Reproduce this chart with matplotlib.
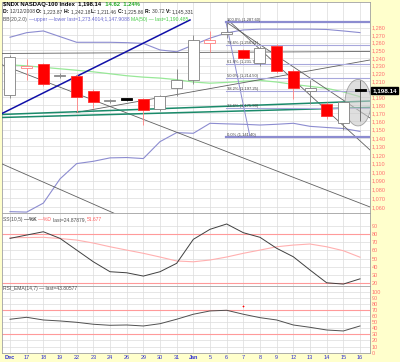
import numpy as np
import matplotlib
matplotlib.use("Agg")
import matplotlib.pyplot as plt
from matplotlib.ticker import NullLocator

plt.rcParams['font.family'] = ['Liberation Sans Narrow', 'Liberation Sans', 'DejaVu Sans']

# ---- data ----
date_labels = ['Dec', '17', '18', '19', '22', '23', '24', '26', '29', '30', '31',
               'Jan', '5', '6', '7', '8', '9', '12', '13', '14', '15', '16']
opens  = [1193, 1227, 1232, 1217, 1217, 1198, 1185, 1188.5, 1187, 1175, 1201.5,
          1212, 1259, 1272, 1250, 1233, 1256, 1223, 1198, 1182, 1158, 1200]
highs  = [1244, 1238, 1234, 1220, 1219, 1200, 1187, 1189, 1189, 1193, 1225,
          1270, 1275, 1287.5, 1252, 1256, 1258, 1225, 1212, 1184, 1184, 1212]
lows   = [1189, 1211, 1204, 1214, 1172, 1177, 1183, 1185, 1156, 1173, 1191,
          1206, 1248, 1266, 1238, 1230, 1221, 1187, 1181, 1163, 1150, 1160]
closes = [1241, 1230, 1206, 1218.5, 1190, 1184, 1186, 1186.5, 1174, 1191, 1212,
          1264, 1263, 1274, 1240, 1253, 1223, 1201, 1202, 1166, 1183.52, 1198.14]
prev_close = 1230.0

ma50 = [1231, 1229.7, 1227.8, 1225.9, 1224, 1222, 1219.5, 1217, 1215.2, 1214, 1212,
        1209, 1207.5, 1208.5, 1210, 1211, 1209, 1206, 1203.5, 1201, 1196.5, 1190.485]
bb_upper = [1267.2, 1273.3, 1275.6, 1268, 1260.5, 1260.5, 1260.5, 1260, 1259, 1250.4, 1248,
            1257, 1266, 1273, 1277, 1278, 1278, 1278, 1278, 1277.6, 1275.6, 1273.4014]
bb_lower = [1055.1, 1054.6, 1064.6, 1092, 1109.7, 1112.4, 1116.4, 1116.8, 1115.6, 1135.6, 1146.4,
            1145.6, 1157.7, 1157, 1156.5, 1155.6, 1156.5, 1157.7, 1154, 1152.6, 1151.4, 1147.9088]

ss_k = [75, 79.1, 83.2, 75, 60.5, 46, 33.7, 32.4, 28.3, 33.7, 44.1,
        73.8, 86.2, 92.8, 82, 76.3, 62.7, 52.2, 35.8, 20, 18.4, 24.87879]
ss_d = [75.8, 76, 76.3, 74.8, 72.9, 69.2, 64.6, 60.5, 56.5, 51.9, 47,
        46, 48.2, 51.9, 56.5, 60.5, 64.6, 66.7, 68, 64.6, 59.7, 51.677]
rsi = [54.8, 58, 53.6, 52, 49.8, 46.6, 44.9, 45.4, 43.8, 47.5, 54.8,
       63, 68.4, 69.5, 63, 57.4, 53.6, 45.4, 41.6, 37.2, 35.6, 43.80577]

# trendlines: (start day, start price, end day, end price)
gray_lines = [(-0.48, 1245.8, 21.6, 1248.4),
              (-0.6, 1232.1, 21.6, 1060.3),
              (-0.6, 1110.4, 6.48, 1051.4),
              (4.0, 1171.0, 21.6, 1237.3),
              (12.96, 1287.7, 21.6, 1164.2),
              (13.08, 1290.4, 21.6, 1125.7)]
teal_lines = [(-0.48, 1168.5, 21.6, 1185.1),
              (-0.48, 1164.8, 21.6, 1177.1)]
blue_line = (-0.48, 1169.7, 10.8, 1290.4)

fib_start, fib_high, fib_low, fib_low_day = 12.96, 1287.6, 1141.4, 14.4
fib_pcts = [0.0, 23.6, 38.2, 50.0, 61.8, 78.6, 100.0]

# ---- figure ----
yellow = '#ffffcc'
grid_c = '#dcdcdc'
tick_c = '#ff7070'
fig = plt.figure(figsize=(4.0, 3.62), dpi=100, facecolor=yellow)
ax1 = fig.add_axes([0.005, 0.4116, 0.92, 0.5829])
ax2 = fig.add_axes([0.005, 0.2099, 0.92, 0.2017])
ax3 = fig.add_axes([0.005, 0.0235, 0.92, 0.1865])
days = np.arange(len(closes))

for ax in (ax1, ax2, ax3):
    ax.set_facecolor('white')
    ax.set_xlim(-0.48, 21.6)
    ax.set_xticks(days)
    ax.yaxis.tick_right()
    ax.tick_params(length=0, labelsize=4, labelcolor=tick_c, pad=1.5)
    ax.grid(True, color=grid_c, lw=0.5, zorder=0)
    ax.set_axisbelow(True)
    for s in ax.spines.values():
        s.set_color('#a0a0a0')
        s.set_linewidth(0.6)


def rainbow(ax, x, y, parts, size):
    t = None
    for s, c, w in parts:
        if t is None:
            t = ax.text(x, y, s, color=c, fontsize=size, fontweight=w,
                        transform=ax.transAxes, va='bottom', ha='left', zorder=10)
        else:
            t = ax.annotate(s, xy=(1, 0), xycoords=t, va='bottom', ha='left',
                            color=c, fontsize=size, fontweight=w, zorder=10)


# ---- price panel ----
ax1.set_yscale('log')
ax1.set_ylim(1053.6, 1315)
yt = list(range(1060, 1290, 10))
ax1.yaxis.set_minor_locator(NullLocator())
ax1.set_yticks(yt)
# the last-price tag covers the 1,200 label
ax1.set_yticklabels(['' if v == 1200 else '{:,}'.format(v) for v in yt])
ax1.set_xticklabels([])

ax1.plot(days, bb_upper, color='#8c8cd0', lw=0.8, zorder=2)
ax1.plot(days, bb_lower, color='#8c8cd0', lw=0.8, zorder=2)
ax1.plot(days, ma50, color='#98e898', lw=0.9, zorder=2)

for x0, p0, x1, p1 in gray_lines:
    ax1.plot([x0, x1], [p0, p1], color='#606060', lw=0.6, zorder=3)
for x0, p0, x1, p1 in teal_lines:
    ax1.plot([x0, x1], [p0, p1], color='#1a8a6a', lw=1.1, zorder=3)
ax1.plot([blue_line[0], blue_line[2]], [blue_line[1], blue_line[3]],
         color='#1010a8', lw=1.1, zorder=3)

# fibonacci retracement
ax1.plot([fib_start, fib_low_day], [fib_high, fib_low], color='#8c8cd0', lw=0.7, zorder=3)
for pct in fib_pcts:
    lvl = fib_low + (fib_high - fib_low) * pct / 100.0
    thick = pct in (0.0, 100.0)
    ax1.plot([fib_start, 21.8], [lvl, lvl], color='#8c8cd0' if thick else '#a8a8dc',
             lw=1.6 if thick else 0.8, zorder=3)
    ax1.text(fib_start + 0.05, lvl, '{:.1f}% ({:,.2f})'.format(pct, lvl),
             fontsize=3, color='#404040', va='bottom', ha='left', zorder=4)

# ellipse highlight
t = np.linspace(0, 2 * np.pi, 100)
ex = 20.88 + 0.78 * np.cos(t)
ey = np.exp(np.log(1183.0) + 0.0244 * np.sin(t))
ax1.fill(ex, ey, facecolor='#c8c8c8', alpha=0.6, edgecolor='#707070', lw=0.6, zorder=5)

# candles
pc = prev_close
for i in days:
    o, h, l, c = opens[i], highs[i], lows[i], closes[i]
    up = c >= o
    higher = c >= pc
    if up and higher:
        fc, ec, wc = 'white', '#808080', '#808080'
    elif up:
        fc, ec, wc = 'white', '#ff8080', '#ff8080'
    elif higher:
        fc, ec, wc = 'black', 'black', '#606060'
    else:
        fc, ec, wc = '#ff0000', '#ff3030', '#ff8080'
    ax1.vlines(i, l, h, color=wc, lw=0.6, zorder=6)
    lo, hi = min(o, c), max(o, c)
    if hi - lo < 1.5:
        hi = lo + 1.5
    ax1.bar(i, hi - lo, bottom=lo, width=0.66, facecolor=fc, edgecolor=ec,
            lw=0.6, zorder=7)
    pc = c

ax1.annotate('1,198.14', xy=(1.0, closes[-1]), xycoords=('axes fraction', 'data'),
             xytext=(1.5, 0), textcoords='offset points', va='center', ha='left',
             color='white', fontsize=4.5, fontweight='bold', annotation_clip=False,
             bbox=dict(boxstyle='square,pad=0.2', fc='black', ec='black'))

rainbow(ax1, 0.004, 0.977, [('$NDX NASDAQ-100 Index  1,198.14', 'black', 'bold'),
                             ('  14.62  1.24%', '#22aa22', 'bold')], 4.2)
rainbow(ax1, 0.004, 0.942, [('D: ', 'black', 'bold'), ('12/12/2008 ', '#404040', 'normal'),
                             ('O: ', 'black', 'bold'), ('1,223.87 ', '#404040', 'normal'),
                             ('H: ', 'black', 'bold'), ('1,242.18 ', '#404040', 'normal'),
                             ('L: ', 'black', 'bold'), ('1,211.46 ', '#404040', 'normal'),
                             ('C: ', 'black', 'bold'), ('1,225.86 ', '#404040', 'normal'),
                             ('R: ', 'black', 'bold'), ('30.72 ', '#404040', 'normal'),
                             ('V: ', 'black', 'bold'), ('1,145,331', '#404040', 'normal')], 3.6)
rainbow(ax1, 0.004, 0.907, [('BB(20,2.0) ', '#505050', 'normal'),
                             ('\u2014upper \u2014lower last=1,273.4014;1,147.9088 ', '#6a6ad0', 'normal'),
                             ('MA(50) \u2014 last=1,190.485', '#44cc44', 'normal')], 3.6)

# ---- slow stochastics panel ----
ax2.set_ylim(16, 106.4)
ax2.set_yticks(range(20, 100, 10))
ax2.set_xticklabels([])
ax2.axhline(80, color='#ff9a9a', lw=0.8, zorder=2)
ax2.axhline(20, color='#ff9a9a', lw=0.8, zorder=2)
ax2.plot(days, ss_d, color='#ffb0b0', lw=0.8, zorder=3)
ax2.plot(days, ss_k, color='#404040', lw=0.7, zorder=4)
rainbow(ax2, 0.004, 0.87, [('SS(10,5) ', '#505050', 'normal'), ('\u2014%K ', 'black', 'normal'),
                            ('\u2014%D ', '#ff6060', 'normal'), ('last=24.87879, ', '#505050', 'normal'),
                            ('51.677', '#ff6060', 'normal')], 3.6)

# ---- RSI panel ----
ax3.set_ylim(-1.3, 109.3)
ax3.set_yticks(range(0, 110, 10))
ax3.axhline(70, color='#ff9a9a', lw=0.8, zorder=2)
ax3.axhline(30, color='#ff9a9a', lw=0.8, zorder=2)
ax3.plot(days, rsi, color='#505050', lw=0.7, zorder=4)
ax3.plot(14, 77, marker='+', color='red', ms=2, mew=0.5, zorder=5)
rainbow(ax3, 0.004, 0.93, [('RSI_EMA(14,7) \u2014 last=43.80577', '#505050', 'normal')], 3.6)
ax3.set_xticklabels(date_labels)
ax3.tick_params(axis='x', labelcolor='#3030d0', labelsize=4, pad=1)
for lab in ax3.get_xticklabels():
    if lab.get_text() in ('Dec', 'Jan'):
        lab.set_fontweight('bold')

fig.savefig('out.png', dpi=100, facecolor=yellow)
